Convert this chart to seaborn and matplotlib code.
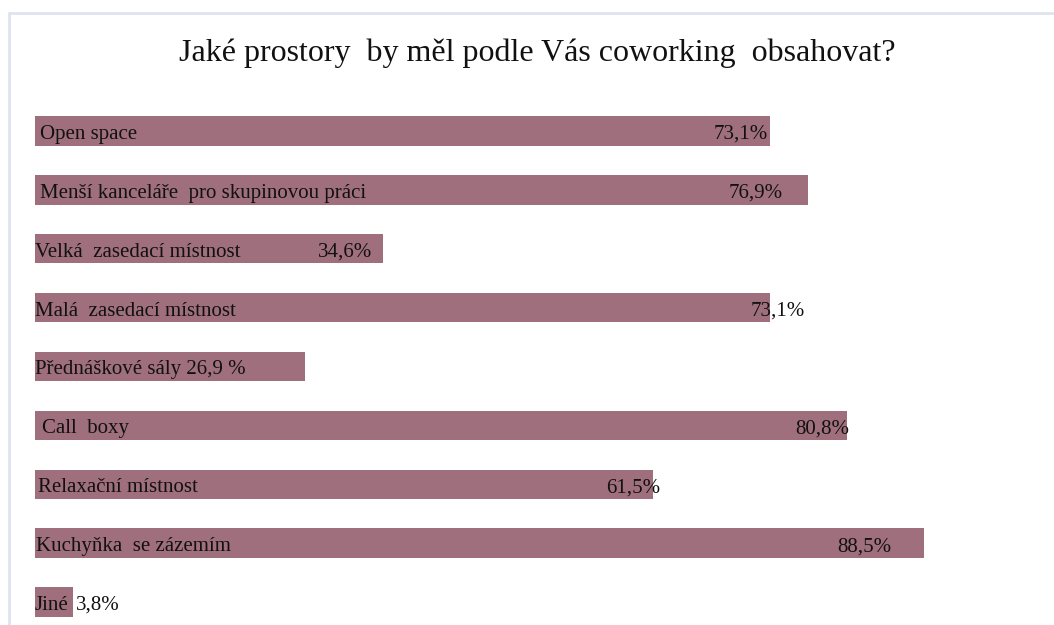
import matplotlib

matplotlib.use("Agg")

import matplotlib.pyplot as plt
import pandas as pd
import seaborn as sns
from matplotlib.lines import Line2D


TITLE = "Jaké prostory  by měl podle Vás coworking  obsahovat?"
CATEGORIES = [
    "Open space",
    "Menší kanceláře  pro skupinovou práci",
    "Velká  zasedací místnost",
    "Malá  zasedací místnost",
    "Přednáškové sály",
    "Call  boxy",
    "Relaxační místnost",
    "Kuchyňka  se zázemím",
    "Jiné",
]
VALUES = [73.1, 76.9, 34.6, 73.1, 26.9, 80.8, 61.5, 88.5, 3.8]

# hand placed label offsets (pixels) from the bar end, like in the original slide
NAME_PAD = [5, 5, 0, 0, 0, 7, 3, 1, 0]
VALUE_PAD = [-2, -25, -11, 35, None, 2, 7, -33, 3]
VALUE_HA = ["right", "right", "right", "right", None, "right", "right", "right", "left"]

BAR_COLOR = "#9f6f7d"
FRAME_COLOR = "#dfe4ec"
TEXT_SIZE = 15
BASELINE = -8


def fmt(value: float) -> str:
    return f"{value:.1f}".replace(".", ",")


sns.set_theme(style="white")
plt.rcParams["font.family"] = ["Liberation Serif", "DejaVu Serif"]

df = pd.DataFrame({"kategorie": CATEGORIES, "podil": VALUES})

fig = plt.figure(figsize=(10.54, 6.25), dpi=100)
W, H = 1054, 625
ax = fig.add_axes([35 / W, 0, 1005 / W, 523.5 / H])

sns.barplot(data=df, y="kategorie", x="podil", orient="h", color=BAR_COLOR,
            width=0.5, saturation=1, linewidth=0, ax=ax)

ax.set_xlim(0, 100)
ax.set_ylim(8.39, -0.5)
ax.set_axis_off()

for i, (name, value) in enumerate(zip(CATEGORIES, VALUES)):
    label = name
    if VALUE_PAD[i] is None:
        label = f"{name} {fmt(value)} %"
    ax.annotate(label, xy=(0, i), xytext=(NAME_PAD[i], BASELINE), textcoords="offset pixels",
                ha="left", va="baseline", fontsize=TEXT_SIZE, color="#111111")
    if VALUE_PAD[i] is not None:
        ax.annotate(f"{fmt(value)}%", xy=(value, i), xytext=(VALUE_PAD[i], BASELINE),
                    textcoords="offset pixels", ha=VALUE_HA[i], va="baseline",
                    fontsize=TEXT_SIZE, color="#111111")

fig.text(537 / W, 1 - 53 / H, TITLE, ha="center", va="center", fontsize=23, color="#111111")

# light frame of the slide
fig.add_artist(Line2D([9 / W, 1], [1 - 13 / H, 1 - 13 / H], color=FRAME_COLOR, linewidth=2))
fig.add_artist(Line2D([9 / W, 9 / W], [0, 1 - 13 / H], color=FRAME_COLOR, linewidth=2))

fig.savefig("out.png", dpi=100)
plt.close(fig)
